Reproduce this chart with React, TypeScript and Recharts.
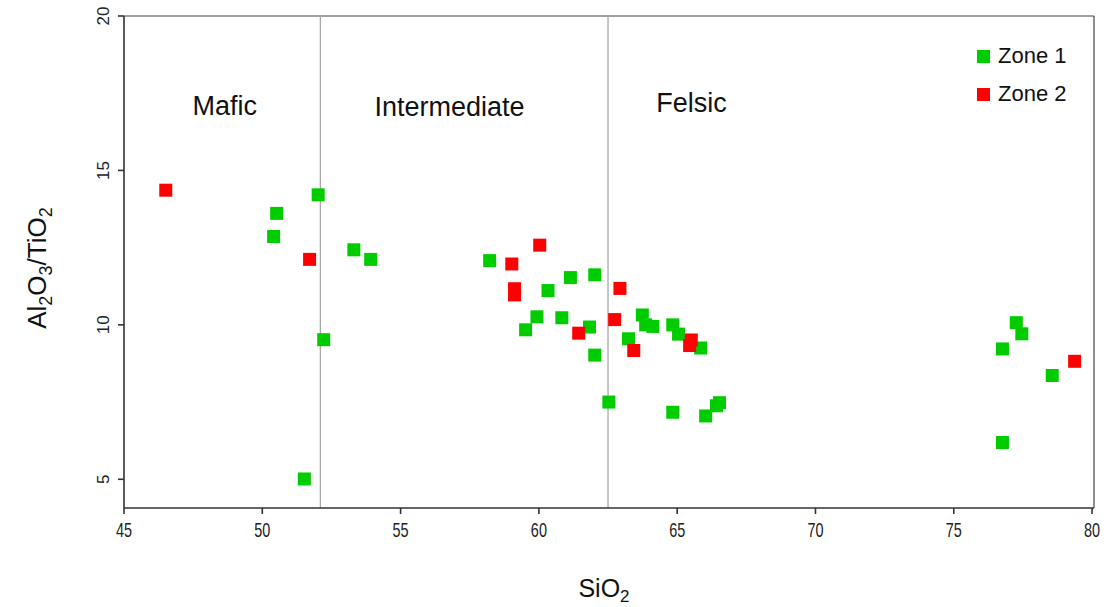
import { ReferenceDot, ReferenceLine, Scatter, ScatterChart, XAxis, YAxis } from 'recharts'

// SiO2 (wt%) and Al2O3/TiO2 ratio
const zone1SiO2 = [
  52.02, 50.52, 50.41, 53.31, 53.92, 52.22, 51.52, 58.22, 59.52, 59.93, 60.33,
  60.83, 61.14, 61.83, 62.02, 62.02, 62.53, 63.24, 63.74, 63.86, 64.12, 64.84,
  65.05, 65.85, 64.84, 66.03, 66.42, 66.53, 76.76, 77.26, 77.46, 78.56, 76.76,
]
const zone1Ratio = [
  14.21, 13.61, 12.86, 12.43, 12.12, 9.52, 5.01, 12.08, 9.84, 10.26, 11.11,
  10.23, 11.53, 9.93, 11.62, 9.02, 7.5, 9.55, 10.32, 10.0, 9.95, 10.0,
  9.7, 9.25, 7.17, 7.05, 7.38, 7.48, 9.22, 10.07, 9.71, 8.36, 6.19,
]
const zone2SiO2 = [
  46.51, 51.71, 59.02, 60.03, 59.12, 59.12, 61.44, 62.74, 62.93, 63.43, 65.51,
  65.45, 79.37,
]
const zone2Ratio = [
  14.36, 12.12, 11.97, 12.58, 11.17, 10.97, 9.73, 10.17, 11.18, 9.17, 9.51,
  9.33, 8.82,
]

const xTicks = [45, 50, 55, 60, 65, 70, 75, 80]
const yTicks = [5, 10, 15, 20]
const fieldBounds = [52.1, 62.5]
const fieldNames = ['Mafic', 'Intermediate', 'Felsic']
const fieldCentre = [48.64, 56.77, 65.52]
const fieldBase = [16.81, 16.75, 16.88]

const seriesNames = ['Zone 1', 'Zone 2']
const seriesColors = ['#00cc00', '#ff0000']

const toPoints = (xs: number[], ys: number[]) => xs.map((x, i) => ({ x, y: ys[i] }))

const FONT = '"Liberation Sans", Arial, sans-serif'
const X_MIN = 45
const X_MAX = 80.07
const Y_MIN = 4.07
const Y_MAX = 20

function squareShape(color: string) {
  return (p: any) => (
    <rect x={p.cx - 6.5} y={p.cy - 6.5} width={13} height={13} fill={color} />
  )
}

// x labels in the original look squeezed/tall
function XTick({ x, y, payload }: any) {
  return (
    <text
      transform={`translate(${x}, ${y + 21}) scale(0.85, 1.2)`}
      textAnchor="middle"
      fontSize={17}
      fill="#222"
      fontFamily={FONT}
    >
      {payload.value}
    </text>
  )
}

function YTick({ x, y, payload }: any) {
  const bx = x - 7
  return (
    <text
      x={bx}
      y={y}
      textAnchor="middle"
      transform={`rotate(-90, ${bx}, ${y})`}
      fontSize={17}
      fill="#222"
      fontFamily={FONT}
    >
      {payload.value}
    </text>
  )
}

function FieldLabel({ cx, cy, text }: any) {
  return (
    <text x={cx} y={cy} textAnchor="middle" fontSize={27} fill="#111" fontFamily={FONT}>
      {text}
    </text>
  )
}

export default function App() {
  const zone1 = toPoints(zone1SiO2, zone1Ratio)
  const zone2 = toPoints(zone2SiO2, zone2Ratio)

  return (
    <div style={{ position: 'absolute', left: 0, top: 0, width: 1107, height: 607, background: '#fff' }}>
      <ScatterChart width={1107} height={607} margin={{ top: 16, right: 13, left: 0, bottom: 0 }}>
        <XAxis
          type="number"
          dataKey="x"
          domain={[X_MIN, X_MAX]}
          ticks={xTicks}
          allowDataOverflow
          height={99}
          stroke="#333"
          strokeWidth={1.6}
          tickSize={6}
          tick={<XTick />}
          label={{
            content: () => (
              <text x={604} y={597} textAnchor="middle" fontSize={25} fill="#111" fontFamily={FONT}>
                SiO<tspan dy={5} fontSize={17}>2</tspan>
              </text>
            ),
          }}
        />
        <YAxis
          type="number"
          dataKey="y"
          domain={[Y_MIN, Y_MAX]}
          ticks={yTicks}
          allowDataOverflow
          width={124}
          stroke="#333"
          strokeWidth={1.6}
          tickSize={6}
          tick={<YTick />}
          label={{
            content: () => (
              <text
                x={46}
                y={268}
                textAnchor="middle"
                transform="rotate(-90, 46, 268)"
                fontSize={26}
                fill="#111"
                fontFamily={FONT}
              >
                Al<tspan dy={6} fontSize={18}>2</tspan>
                <tspan dy={-6}>O</tspan>
                <tspan dy={6} fontSize={18}>3</tspan>
                <tspan dy={-6}>/TiO</tspan>
                <tspan dy={6} fontSize={18}>2</tspan>
              </text>
            ),
          }}
        />
        {/* box top / right */}
        <ReferenceLine y={Y_MAX} stroke="#444" strokeWidth={1.2} />
        <ReferenceLine x={X_MAX} stroke="#444" strokeWidth={1.2} />
        {fieldBounds.map((b) => (
          <ReferenceLine key={b} x={b} stroke="#a8a8a8" strokeWidth={1.3} />
        ))}
        {fieldNames.map((name, i) => (
          <ReferenceDot
            key={name}
            x={fieldCentre[i]}
            y={fieldBase[i]}
            r={0}
            shape={(p: any) => <FieldLabel cx={p.cx} cy={p.cy} text={name} />}
          />
        ))}
        <Scatter name={seriesNames[0]} data={zone1} shape={squareShape(seriesColors[0])} isAnimationActive={false} />
        <Scatter name={seriesNames[1]} data={zone2} shape={squareShape(seriesColors[1])} isAnimationActive={false} />
      </ScatterChart>
      <div style={{ position: 'absolute', left: 977, top: 37, fontFamily: FONT, fontSize: 22, color: '#111' }}>
        {seriesNames.map((name, i) => (
          <div key={name} style={{ display: 'flex', alignItems: 'center', height: 38 }}>
            <span style={{ display: 'inline-block', width: 13, height: 13, background: seriesColors[i], marginRight: 8 }} />
            {name}
          </div>
        ))}
      </div>
    </div>
  )
}
